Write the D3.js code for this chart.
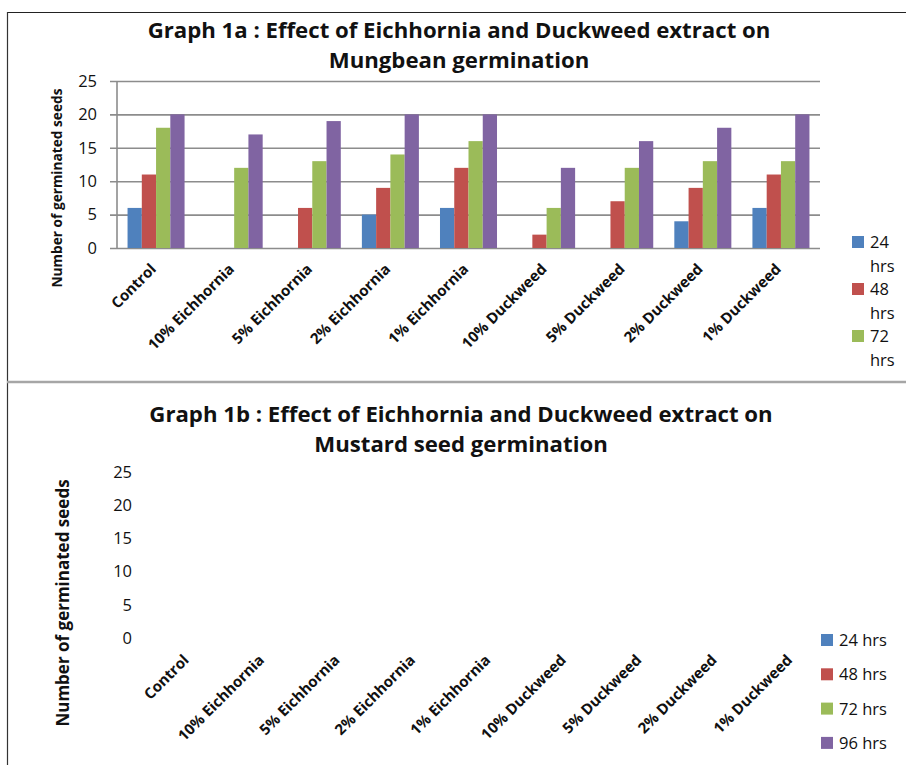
<!DOCTYPE html>
<html>
<head>
<meta charset="utf-8">
<script src="https://cdn.jsdelivr.net/npm/d3@7"></script>
<style>
  html, body { margin: 0; padding: 0; background: #fff; }
  svg { display: block; font-family: "Open Sans", Lato, sans-serif; }
</style>
</head>
<body>
<svg id="chart" width="906" height="765"></svg>
<script>
// Treatments on the x axis (shared by both graphs)
const categories = ["Control", "10% Eichhornia", "5% Eichhornia", "2% Eichhornia", "1% Eichhornia",
                    "10% Duckweed", "5% Duckweed", "2% Duckweed", "1% Duckweed"];
const seriesNames = ["24 hrs", "48 hrs", "72 hrs", "96 hrs"];
const seriesColors = ["#4F81BD", "#C0504D", "#9BBB59", "#8064A2"];
const yTicks = [0, 5, 10, 15, 20, 25];

// Graph 1a: Mungbean, germinated seeds per treatment
const mung24 = [6, 0, 0, 5, 6, 0, 0, 4, 6];
const mung48 = [11, 0, 6, 9, 12, 2, 7, 9, 11];
const mung72 = [18, 12, 13, 14, 16, 6, 12, 13, 13];
const mung96 = [20, 17, 19, 20, 20, 12, 16, 18, 20];

// Graph 1b: Mustard seed (no counts plotted)
const mustard24 = [null, null, null, null, null, null, null, null, null];
const mustard48 = [null, null, null, null, null, null, null, null, null];
const mustard72 = [null, null, null, null, null, null, null, null, null];
const mustard96 = [null, null, null, null, null, null, null, null, null];

const svg = d3.select("#chart");

// Outer frame and divider
svg.append("line").attr("x1", 7).attr("x2", 906).attr("y1", 12.5).attr("y2", 12.5)
  .attr("stroke", "#222").attr("stroke-width", 1.2);
svg.append("line").attr("x1", 7.5).attr("x2", 7.5).attr("y1", 12).attr("y2", 765)
  .attr("stroke", "#333").attr("stroke-width", 1.2);
svg.append("line").attr("x1", 7).attr("x2", 906).attr("y1", 382).attr("y2", 382)
  .attr("stroke", "#a6a6a6").attr("stroke-width", 2.4);

function drawChart(opts) {
  const g = svg.append("g");
  const series = opts.values.map((vals, i) => ({ name: seriesNames[i], color: seriesColors[i], vals }));

  // Title (two lines)
  const title = g.append("text").attr("text-anchor", "middle")
    .attr("font-weight", 700).attr("font-size", opts.titleSize).attr("fill", "#111");
  opts.title.forEach((line, i) => {
    title.append("tspan").attr("x", opts.titleX).attr("y", opts.titleY + i * 30).text(line);
  });

  const x0 = d3.scaleBand().domain(categories).range([opts.left, opts.right]).paddingInner(0.27).paddingOuter(0.135);
  const x1 = d3.scaleBand().domain(seriesNames).range([0, x0.bandwidth()]);
  const y = d3.scaleLinear().domain([0, 25]).range([opts.bottom, opts.top]);

  // Y axis with grid
  const yAxis = d3.axisLeft(y).tickValues(yTicks).tickSize(opts.grid ? -(opts.right - opts.left) : 0)
    .tickPadding(opts.grid ? 20 : 0).tickSizeOuter(0);
  const ya = g.append("g").attr("transform", `translate(${opts.left},0)`).call(yAxis);
  ya.select(".domain").remove();
  ya.selectAll("text").attr("font-size", 16.5).attr("fill", "#111")
    .attr("font-family", "'Open Sans', Lato, sans-serif")
    .attr("x", opts.grid ? -20 : opts.tickLabelX - opts.left);
  if (opts.grid) {
    ya.selectAll("line").attr("stroke", "#8c8c8c").attr("stroke-width", 1.6).attr("x1", -7);
    g.append("line").attr("x1", opts.left).attr("x2", opts.left).attr("y1", opts.top).attr("y2", opts.bottom)
      .attr("stroke", "#8c8c8c").attr("stroke-width", 1.6);
  } else {
    ya.selectAll("line").remove();
  }

  // Bars
  const groups = g.append("g").selectAll("g").data(categories).join("g")
    .attr("transform", d => `translate(${x0(d)},0)`);
  groups.selectAll("rect")
    .data((d, ci) => series.map(s => ({ name: s.name, color: s.color, v: s.vals[ci] }))
      .filter(e => e.v !== null && e.v > 0))
    .join("rect")
    .attr("x", d => x1(d.name)).attr("width", x1.bandwidth())
    .attr("y", d => y(d.v)).attr("height", d => y(0) - y(d.v))
    .attr("fill", d => d.color);

  // Category labels, rotated
  g.append("g").selectAll("text").data(categories).join("text")
    .attr("transform", d => `translate(${x0(d) + x0.bandwidth() / 2 + opts.labDx},${opts.labY}) rotate(-45)`)
    .attr("text-anchor", "end").attr("font-weight", 700).attr("font-size", opts.labSize)
    .attr("fill", "#111").text(d => d);

  // Y axis title
  g.append("text").attr("transform", `translate(${opts.yTitleX},${opts.yTitleY}) rotate(-90)`)
    .attr("text-anchor", "middle").attr("font-weight", 700).attr("font-size", opts.yTitleSize)
    .attr("fill", "#111").text("Number of germinated seeds");

  // Legend
  const lg = g.append("g");
  if (opts.legendClip) {
    svg.append("clipPath").attr("id", opts.legendClip).append("rect")
      .attr("x", 0).attr("y", 0).attr("width", 906).attr("height", 376);
    lg.attr("clip-path", `url(#${opts.legendClip})`);
  }
  series.forEach((s, i) => {
    const cy = opts.legTop + i * opts.legStep;
    lg.append("rect").attr("x", opts.legX).attr("y", cy - 6).attr("width", 12).attr("height", 12).attr("fill", s.color);
    const t = lg.append("text").attr("font-size", 16.5).attr("fill", "#111");
    if (opts.legWrap) {
      const parts = s.name.split(" ");
      t.append("tspan").attr("x", opts.legX + 18).attr("y", cy + 6).text(parts[0]);
      t.append("tspan").attr("x", opts.legX + 18).attr("y", cy + 30).text(parts[1]);
    } else {
      t.attr("x", opts.legX + 18).attr("y", cy + 6).text(s.name);
    }
  });
}

drawChart({
  values: [mung24, mung48, mung72, mung96],
  title: ["Graph 1a : Effect of Eichhornia and Duckweed extract on", "Mungbean germination"],
  titleX: 459, titleY: 38, titleSize: 22.2,
  left: 117, right: 820, top: 81, bottom: 248, grid: true,
  labDx: 1, labY: 270, labSize: 15,
  yTitleX: 62, yTitleY: 188, yTitleSize: 13.7,
  legX: 852, legTop: 242, legStep: 47, legWrap: true, legendClip: "legclip"
});

drawChart({
  values: [mustard24, mustard48, mustard72, mustard96],
  title: ["Graph 1b : Effect of Eichhornia and Duckweed extract on", "Mustard seed germination"],
  titleX: 461, titleY: 422, titleSize: 22.2,
  left: 150, right: 829, top: 472, bottom: 638, grid: false, tickLabelX: 132,
  labDx: 2, labY: 661, labSize: 15,
  yTitleX: 69, yTitleY: 603, yTitleSize: 17,
  legX: 821, legTop: 640, legStep: 34.3, legWrap: false
});
</script>
</body>
</html>
